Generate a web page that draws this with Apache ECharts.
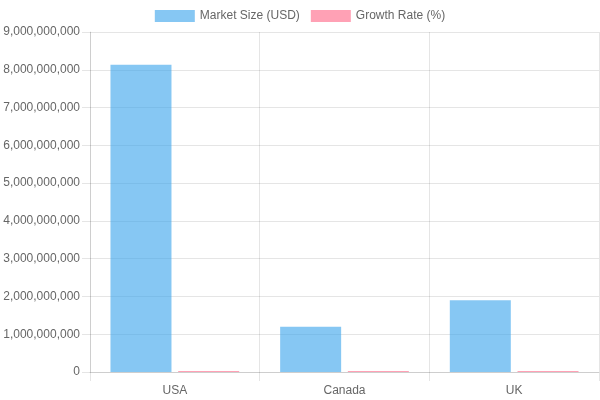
<!DOCTYPE html>
<html>
<head>
<meta charset="utf-8">
<script src="https://cdn.jsdelivr.net/npm/echarts@6/dist/echarts.min.js"></script>
<style>
  html, body { margin: 0; padding: 0; background: #fff; }
  #main { width: 600px; height: 400px; }
</style>
</head>
<body>
<div id="main"></div>
<script>
// chart data
var countries = ['USA', 'Canada', 'UK'];
var marketSize = [8130000000, 1200000000, 1900000000];
var growthRate = [5.2, 4.1, 3.8];
var yTicks = { min: 0, max: 9000000000, step: 1000000000 };

var gridColor = 'rgba(0,0,0,0.1)';
var textColor = '#666';
var font = 'Liberation Sans, Arial, Helvetica, sans-serif';

var myChart = echarts.init(document.getElementById('main'));

var option = {
  animation: false,
  textStyle: { fontFamily: font },
  legend: {
    top: 10,
    left: 'center',
    padding: 0,
    itemWidth: 40,
    itemHeight: 12,
    itemGap: 11,
    icon: 'rect',
    textStyle: { color: textColor, fontSize: 12, fontFamily: font },
    data: ['Market Size (USD)', 'Growth Rate (%)']
  },
  grid: { left: 90, right: 1, top: 32, bottom: 28, containLabel: false },
  xAxis: {
    type: 'category',
    data: countries,
    boundaryGap: true,
    axisLine: { show: true, lineStyle: { color: gridColor } },
    axisTick: { show: true, length: 9, alignWithLabel: false, lineStyle: { color: gridColor } },
    axisLabel: { color: textColor, fontSize: 12, margin: 13, fontFamily: font },
    splitLine: { show: true, lineStyle: { color: gridColor } }
  },
  yAxis: {
    type: 'value',
    min: yTicks.min,
    max: yTicks.max,
    interval: yTicks.step,
    axisLine: { show: true, lineStyle: { color: gridColor } },
    axisTick: { show: true, length: 8, lineStyle: { color: gridColor } },
    axisLabel: {
      color: textColor, fontSize: 12, margin: 10, fontFamily: font,
      formatter: function (v) { return v.toLocaleString('en-US'); }
    },
    splitLine: { show: true, lineStyle: { color: gridColor } }
  },
  series: [
    {
      name: 'Market Size (USD)',
      type: 'bar',
      data: marketSize,
      barWidth: 61,
      barGap: '11%',
      itemStyle: { color: 'rgba(54,162,235,0.6)' }
    },
    {
      name: 'Growth Rate (%)',
      type: 'bar',
      data: growthRate,
      barWidth: 61,
      barMinHeight: 1,
      itemStyle: { color: 'rgba(255,99,132,0.6)' }
    }
  ]
};

myChart.setOption(option);
</script>
</body>
</html>
